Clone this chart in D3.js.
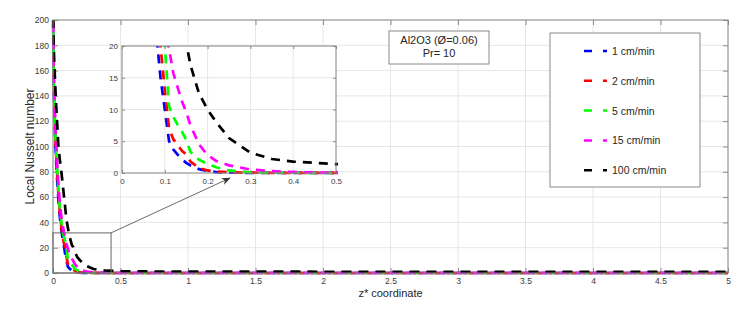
<!DOCTYPE html>
<html>
<head>
<meta charset="utf-8">
<script src="https://cdn.jsdelivr.net/npm/d3@7"></script>
<style>
  body { margin: 0; background: #fff; }
  svg { display: block; font-family: "Liberation Sans", Arial, sans-serif; }
</style>
</head>
<body>
<svg id="chart" width="753" height="312"></svg>
<script>
// axial coordinate z* (shared by all series)
const zValues = [0.001, 0.002, 0.005, 0.01, 0.02, 0.03, 0.04, 0.05, 0.06, 0.07, 0.08, 0.09,
  0.1, 0.11, 0.12, 0.13, 0.14, 0.15, 0.16, 0.18, 0.2, 0.22, 0.25, 0.3, 0.35, 0.4, 0.45, 0.5,
  0.75, 1, 1.5, 2, 2.5, 3, 3.5, 4, 4.5, 5];

const nu1 = [210, 185, 150, 125, 95, 75, 58, 45, 35, 28, 22, 15,
  10, 5, 3.7, 2.9, 2.2, 1.6, 1.2, 0.6, 0.3, 0.15, 0.05, 0.02, 0.01, 0.01, 0.01, 0.01,
  0.01, 0.01, 0.01, 0.01, 0.01, 0.01, 0.01, 0.01, 0.01, 0.01];
const nu2 = [215, 190, 155, 130, 100, 80, 62, 48, 38, 30, 24, 20,
  13, 7, 5.3, 4.4, 3.5, 2.9, 1.8, 0.8, 0.4, 0.25, 0.1, 0.05, 0.03, 0.02, 0.02, 0.02,
  0.02, 0.02, 0.02, 0.02, 0.02, 0.02, 0.02, 0.02, 0.02, 0.02];
const nu5 = [220, 195, 160, 135, 105, 84, 66, 52, 42, 34, 29, 25,
  20, 10.5, 8.8, 7.6, 6.5, 5.2, 3.3, 2.1, 1.4, 0.9, 0.4, 0.1, 0.05, 0.04, 0.03, 0.03,
  0.03, 0.03, 0.03, 0.03, 0.03, 0.03, 0.03, 0.03, 0.03, 0.03];
const nu15 = [225, 198, 165, 140, 110, 88, 70, 56, 46, 39, 33, 28,
  23, 19.5, 15.7, 13.5, 11.3, 9.6, 7.5, 4.5, 2.8, 1.9, 1.2, 0.55, 0.3, 0.15, 0.08, 0.05,
  0.04, 0.04, 0.04, 0.04, 0.04, 0.04, 0.04, 0.04, 0.04, 0.04];
const nu100 = [215, 200, 180, 165, 140, 120, 100, 90, 82, 72, 62, 52,
  42, 36, 30, 26, 22, 20.5, 17, 12.5, 10, 8, 5.5, 3.2, 2.2, 1.8, 1.6, 1.4,
  1.2, 1.1, 1.05, 1.0, 1.0, 1.0, 1.0, 1.0, 1.0, 1.0];

const seriesNames = ["1 cm/min", "2 cm/min", "5 cm/min", "15 cm/min", "100 cm/min"];
const seriesColors = ["#0000ff", "#ff0000", "#00ff00", "#ff00ff", "#000000"];
const seriesValues = [nu1, nu2, nu5, nu15, nu100];

const mainXTicks = [0, 0.5, 1, 1.5, 2, 2.5, 3, 3.5, 4, 4.5, 5];
const mainYTicks = [0, 20, 40, 60, 80, 100, 120, 140, 160, 180, 200];
const insetXTicks = [0, 0.1, 0.2, 0.3, 0.4, 0.5];
const insetYTicks = [0, 5, 10, 15, 20];

const annotationLines = ["Al2O3 (Ø=0.06)", "Pr= 10"];

const series = seriesNames.map((name, i) => ({
  name: name,
  color: seriesColors[i],
  pts: zValues.map((z, j) => ({x: z, y: seriesValues[i][j]}))
}));

const svg = d3.select("#chart");
const axisColor = "#3a3a3a";
const labelColor = "#262626";
const gridColor = "#e6e6e6";
const boxColor = "#8a8a8a";

function drawAxes(g, x, y, xTicks, yTicks, opts) {
  const width = x.range()[1], height = y.range()[0];
  g.append("rect").attr("width", width).attr("height", height).attr("fill", "#fff");

  const grid = g.append("g").attr("class", "grid");
  grid.selectAll(".gx").data(xTicks).enter().append("line")
    .attr("x1", d => x(d)).attr("x2", d => x(d))
    .attr("y1", 0).attr("y2", height)
    .attr("stroke", gridColor).attr("stroke-width", 1);
  grid.selectAll(".gy").data(yTicks).enter().append("line")
    .attr("y1", d => y(d)).attr("y2", d => y(d))
    .attr("x1", 0).attr("x2", width)
    .attr("stroke", gridColor).attr("stroke-width", 1);

  // MATLAB style: ticks point inwards, mirrored on top/right
  const tickLen = opts.tickLen;
  const xAxis = d3.axisBottom(x).tickValues(xTicks).tickSizeInner(-tickLen).tickSizeOuter(0).tickPadding(opts.xPad).tickFormat(d3.format("~g"));
  const yAxis = d3.axisLeft(y).tickValues(yTicks).tickSizeInner(-tickLen).tickSizeOuter(0).tickPadding(opts.yPad).tickFormat(d3.format("~g"));
  const xTop = d3.axisTop(x).tickValues(xTicks).tickSizeInner(-tickLen).tickSizeOuter(0).tickFormat("");
  const yRight = d3.axisRight(y).tickValues(yTicks).tickSizeInner(-tickLen).tickSizeOuter(0).tickFormat("");

  const gX = g.append("g").attr("transform", `translate(0,${height})`).call(xAxis);
  const gY = g.append("g").call(yAxis);
  const gXT = g.append("g").call(xTop);
  const gYR = g.append("g").attr("transform", `translate(${width},0)`).call(yRight);
  [gX, gY, gXT, gYR].forEach(a => {
    a.select(".domain").remove();
    a.selectAll(".tick line").attr("stroke", boxColor);
    a.selectAll("text").attr("fill", axisColor).style("font-size", opts.fontSize + "px");
  });
  return {width, height};
}

function drawBox(g, width, height) {
  g.append("rect").attr("width", width).attr("height", height)
    .attr("fill", "none").attr("stroke", boxColor).attr("stroke-width", 1);
}

function drawLines(g, x, y, clipId, dash, width) {
  const w = x.range()[1], h = y.range()[0];
  g.append("clipPath").attr("id", clipId).append("rect")
    .attr("x", -2).attr("y", 0).attr("width", w + 4).attr("height", h + 2);
  const line = d3.line().x(d => x(d.x)).y(d => y(d.y));
  g.append("g").attr("clip-path", `url(#${clipId})`)
    .selectAll(".line").data(series).enter().append("path")
      .attr("class", "line")
      .attr("d", d => line(d.pts))
      .attr("fill", "none")
      .attr("stroke", d => d.color)
      .attr("stroke-width", width)
      .attr("stroke-dasharray", dash);
}

// ---- main axes
const main = {left: 53, top: 20, right: 728, bottom: 273};
const xMain = d3.scaleLinear().domain([0, 5]).range([0, main.right - main.left]);
const yMain = d3.scaleLinear().domain([0, 200]).range([main.bottom - main.top, 0]);
const gMain = svg.append("g").attr("transform", `translate(${main.left},${main.top})`);
const mainSize = drawAxes(gMain, xMain, yMain, mainXTicks, mainYTicks, {tickLen: 5, fontSize: 8.5, xPad: 5, yPad: 4});
drawLines(gMain, xMain, yMain, "clip-main", "10,7", 2.7);
drawBox(gMain, mainSize.width, mainSize.height);

svg.append("text")
  .attr("transform", `translate(34,${(main.top + main.bottom) / 2}) rotate(-90)`)
  .attr("text-anchor", "middle")
  .attr("fill", labelColor)
  .style("font-size", "12px")
  .text("Local Nusselt number");
svg.append("text")
  .attr("x", (main.left + main.right) / 2).attr("y", 297)
  .attr("text-anchor", "middle")
  .attr("fill", labelColor)
  .style("font-size", "11px")
  .text("z* coordinate");

// zoom rectangle on main axes
const zoomBox = {x1: 0, x2: 0.43, y1: 0, y2: 31.7};
gMain.append("rect")
  .attr("x", xMain(zoomBox.x1)).attr("y", yMain(zoomBox.y2))
  .attr("width", xMain(zoomBox.x2) - xMain(zoomBox.x1))
  .attr("height", yMain(zoomBox.y1) - yMain(zoomBox.y2))
  .attr("fill", "none").attr("stroke", "#666").attr("stroke-width", 1);

// ---- inset axes
const inset = {left: 122, top: 46, right: 336, bottom: 173};
const xIn = d3.scaleLinear().domain([0, 0.5]).range([0, inset.right - inset.left]);
const yIn = d3.scaleLinear().domain([0, 20]).range([inset.bottom - inset.top, 0]);
const gIn = svg.append("g").attr("transform", `translate(${inset.left},${inset.top})`);
const inSize = drawAxes(gIn, xIn, yIn, insetXTicks, insetYTicks, {tickLen: 3, fontSize: 8, xPad: 5, yPad: 4});
drawLines(gIn, xIn, yIn, "clip-inset", "9,7", 2.7);
drawBox(gIn, inSize.width, inSize.height);

// arrow from zoom box to inset
svg.append("defs").append("marker")
  .attr("id", "arrowhead").attr("viewBox", "0 0 10 10")
  .attr("refX", 9).attr("refY", 5)
  .attr("markerWidth", 9).attr("markerHeight", 9)
  .attr("markerUnits", "userSpaceOnUse")
  .attr("orient", "auto")
  .append("path").attr("d", "M0,1 L10,5 L0,9 L3,5 Z").attr("fill", "#333");
svg.append("line")
  .attr("x1", main.left + xMain(zoomBox.x2)).attr("y1", main.top + yMain(zoomBox.y2))
  .attr("x2", inset.left + xIn(0.252)).attr("y2", inset.top + yIn(-0.8))
  .attr("stroke", "#444").attr("stroke-width", 0.8)
  .attr("marker-end", "url(#arrowhead)");

// ---- annotation box
const ann = svg.append("g").attr("transform", "translate(389,31)");
ann.append("rect").attr("width", 100).attr("height", 33)
  .attr("fill", "#fff").attr("stroke", boxColor).attr("stroke-width", 1);
ann.selectAll("text").data(annotationLines).enter().append("text")
  .attr("x", 50).attr("y", (d, i) => 13 + i * 13)
  .attr("text-anchor", "middle")
  .attr("fill", labelColor)
  .style("font-size", "11px")
  .text(d => d);

// ---- legend
const leg = svg.append("g").attr("transform", "translate(550,33)");
leg.append("rect").attr("width", 150).attr("height", 154)
  .attr("fill", "#fff").attr("stroke", boxColor).attr("stroke-width", 1);
const items = leg.selectAll(".item").data(series).enter().append("g")
  .attr("class", "item")
  .attr("transform", (d, i) => `translate(0,${18 + i * 29.8})`);
items.append("line")
  .attr("x1", 34).attr("x2", 57).attr("y1", 0).attr("y2", 0)
  .attr("stroke", d => d.color).attr("stroke-width", 2.5)
  .attr("stroke-dasharray", "8,11");
items.append("text")
  .attr("x", 62).attr("y", 4)
  .attr("fill", labelColor)
  .style("font-size", "10.5px")
  .text(d => d.name);
</script>
</body>
</html>
